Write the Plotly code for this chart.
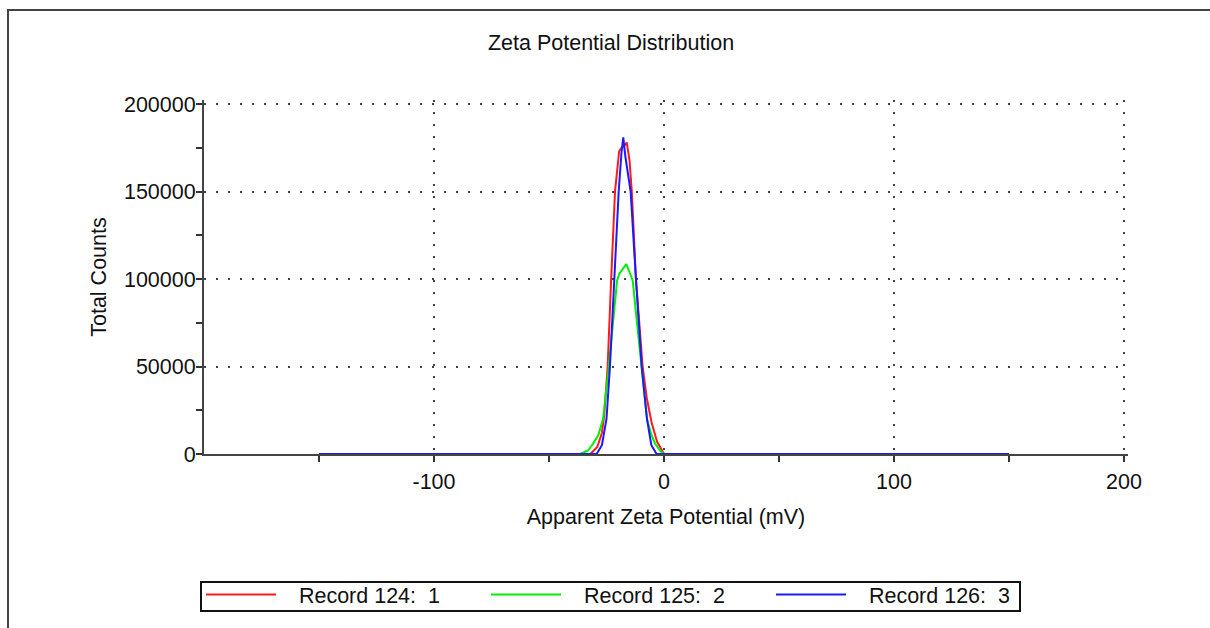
import plotly.graph_objects as go

# ---- data ----
red_x = [-150, -40, -32, -29, -27, -26, -24.5, -23, -21.3, -19.5, -18.5, -17.3, -16.2,
         -15, -14, -12.2, -10.5, -9.3, -7.5, -5.4, -3, -1, 0, 150]
red_y = [0, 0, 0, 4000, 12000, 22000, 50000, 99000, 150000, 173000, 175000, 176000, 178000,
         168000, 150000, 100000, 72000, 50000, 32000, 18000, 7000, 2000, 0, 0]

green_x = [-150, -40, -36.5, -33, -30.8, -28.5, -26.5, -24, -22, -20.4, -19.4, -17.8, -16.4,
           -15, -13.6, -11.9, -9.9, -7.4, -5.5, -3.9, -1.5, 0, 150]
green_y = [0, 0, 0, 2000, 6000, 11000, 20000, 50000, 77000, 99000, 103000, 106000, 108500,
           104000, 99000, 77000, 50000, 20000, 11000, 6000, 1500, 0, 0]

blue_x = [-150, -35, -29.3, -27, -25, -23.5, -21.6, -19.7, -18.5, -17.7, -16.8, -14.5,
          -12.2, -9.7, -7.4, -5.5, -3.2, 150]
blue_y = [0, 0, 0, 5000, 20000, 50000, 100000, 150000, 172000, 181000, 170000, 150000,
          100000, 50000, 20000, 5000, 0, 0]

series_names = ["Record 124:\u00a0 1", "Record 125:\u00a0 2", "Record 126:\u00a0 3"]
series_colors = ["#ff1a1a", "#00ee00", "#1a1aff"]

x_major = [-100, 0, 100, 200]
x_major_text = ["-100", "0", "100", "200"]
x_minor = [-150, -50, 50, 150]
y_major = [0, 50000, 100000, 150000, 200000]

FONT = "Liberation Sans, Arial, sans-serif"
FS = 21.5
INK = "#111"

fig = go.Figure()
for xs, ys, name, col in zip([red_x, green_x, blue_x], [red_y, green_y, blue_y],
                             series_names, series_colors):
    fig.add_trace(go.Scatter(x=xs, y=ys, mode="lines", name="\u00a0\u00a0\u00a0" + name,
                             line=dict(color=col, width=2)))

W, H = 1210, 628
# visible frame of the axes: x 204..1124, y 104..454 ; plot area padded by 4px
# at top/right so the gridlines at the range ends are kept
L, R, T, B = 204, 82, 100, 174
pw, ph = W - L - R, H - T - B
x_hi = -200 + 400 * pw / 920
y_hi = 200000 * ph / 350

def px(xp):
    return (xp - L) / pw

def py(yp):
    return (H - B - yp) / ph

fig.update_layout(
    width=W, height=H,
    margin=dict(l=L, r=R, t=T, b=B, pad=0, autoexpand=False),
    paper_bgcolor="white", plot_bgcolor="white",
    font=dict(family=FONT, size=FS, color=INK),
    title=dict(text="Zeta Potential Distribution", x=611 / W, xanchor="center",
               y=1 - 42 / H, yanchor="middle", font=dict(size=FS, color=INK)),
    xaxis=dict(range=[-200, x_hi], tickvals=x_major, ticktext=x_major_text,
               ticks="outside", ticklen=6, tickwidth=2, tickcolor="#333",
               showline=True, linewidth=2, linecolor="#444", zeroline=False,
               showgrid=True, gridcolor="#444", gridwidth=1.5, griddash="2px,10px",
               layer="below traces", tickfont=dict(size=FS, color=INK),
               minor=dict(tickvals=x_minor, ticks="outside", ticklen=6, tickwidth=2,
                          tickcolor="#333", showgrid=False),
               title=dict(text="Apparent Zeta Potential (mV)", standoff=16,
                          font=dict(size=FS, color=INK)),
               ticklabelstandoff=1),
    yaxis=dict(range=[0, y_hi], tickvals=y_major, tickformat="d", ticks="outside",
               ticklen=6, tickwidth=2, tickcolor="#333", showline=True, linewidth=2,
               linecolor="#444", zeroline=False, showgrid=True, gridcolor="#444",
               gridwidth=1.5, griddash="2px,10px", layer="below traces",
               tickfont=dict(size=FS, color=INK), ticklabelstandoff=-4,
               minor=dict(dtick=25000, ticks="outside", ticklen=6, tickwidth=2,
                          tickcolor="#333", showgrid=False),
               title=dict(text="Total Counts", standoff=11,
                          font=dict(size=FS, color=INK))),
    legend=dict(orientation="h", x=px(201), xanchor="left", y=py(574), yanchor="top",
                borderwidth=0, bgcolor="rgba(0,0,0,0)",
                itemwidth=70, entrywidth=200, font=dict(size=FS, color=INK),
                traceorder="normal"),
    showlegend=True,
    shapes=[
        dict(type="rect", xref="paper", yref="paper",
             x0=px(8), x1=px(1225), y0=py(645), y1=py(10),
             line=dict(color="#444", width=2), layer="below"),
        dict(type="rect", xref="paper", yref="paper",
             x0=px(201), x1=px(1020), y0=py(611), y1=py(582),
             line=dict(color="#111", width=2), layer="above"),
    ],
)

fig.write_html("out.html")
